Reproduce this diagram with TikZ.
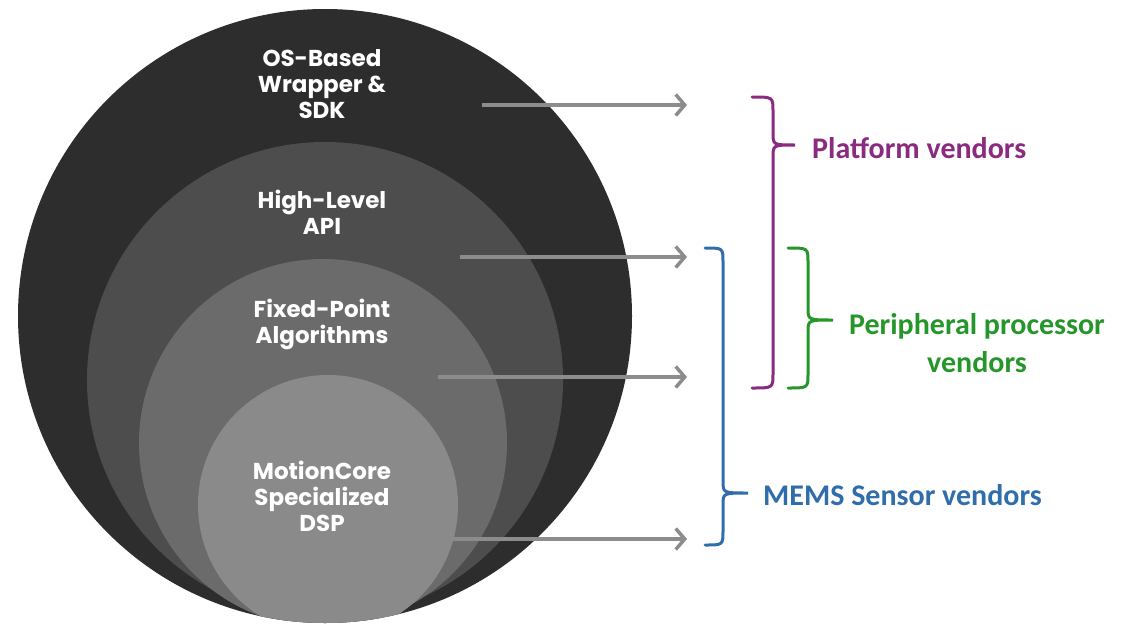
\documentclass[tikz,border=0pt]{standalone}
\usepackage{fontspec}
\setmainfont{Carlito}
\newfontfamily\gothic{Poppins}
\usetikzlibrary{arrows.meta,positioning}
\definecolor{ringA}{HTML}{2D2D2D}
\definecolor{ringB}{HTML}{4D4D4D}
\definecolor{ringC}{HTML}{6B6B6B}
\definecolor{ringD}{HTML}{8A8A8A}
\definecolor{feedgray}{HTML}{8C8C8C}
\definecolor{platpurple}{HTML}{8A2A80}
\definecolor{perigreen}{HTML}{25962A}
\definecolor{memsblue}{HTML}{2F6EAA}

\begin{document}
\begin{tikzpicture}[x=1pt, y=-1pt,
    ring/.style={circle, inner sep=0pt, outer sep=0pt, minimum size=#1},
    layertext/.style={text=white, align=center, inner sep=0pt,
                      font=\gothic\bfseries\fontsize{23}{26}\selectfont},
    feed/.style={draw=feedgray, line width=3.5pt,
                 -{Straight Barb[length=9pt,width=21pt]}},
    bracepath/.style={line width=3pt, line cap=round},
    vendor/.style={font=\bfseries\fontsize{30}{38}\selectfont, align=center,
                   inner sep=0pt}]
\useasboundingbox (0,0) rectangle (1124,626);

% nested layers
\node[ring=614pt, fill=ringA] (osring) at (325,316) {};
\begin{scope}
\clip (325,316) circle (307);
\node[ring=476pt, fill=ringB] (apiring) at (325,380) {};
\node[ring=368pt, fill=ringC] (algring) at (323,443) {};
\node[ring=260pt, fill=ringD] (dspring) at (328,505) {};
\end{scope}

% layer labels
\node[layertext] (ostext) at (322,84) {OS-Based\\Wrapper \&\\SDK};
\node[layertext] (apitext) at (322,212) {High-Level\\API};
\node[layertext] (algtext) at (322,324) {Fixed-Point\\Algorithms};
\node[layertext] (dsptext) at (322,496) {MotionCore\\Specialized\\DSP};

% arrows out of the layers
\coordinate (osfrom) at (482,105);   \coordinate (osto) at (687,105);
\coordinate (apifrom) at (460,257);  \coordinate (apito) at (687,257);
\coordinate (algfrom) at (438,377);  \coordinate (algto) at (687,377);
\coordinate (dspfrom) at (452,539);  \coordinate (dspto) at (687,539);
\draw[feed] (osfrom) -- (osto);
\draw[feed] (apifrom) -- (apito);
\draw[feed] (algfrom) -- (algto);
\draw[feed] (dspfrom) -- (dspto);

% braces
\coordinate (mtip) at (748,493);
\draw[bracepath, memsblue] (705,248) .. controls (723,248) .. (723,262)
    -- (723,481) .. controls (723,493) .. (mtip)
    .. controls (723,493) .. (723,505) -- (723,531)
    .. controls (723,545) .. (705,545);
\coordinate (ptip) at (795,145);
\draw[bracepath, platpurple] (752,97) .. controls (773,97) .. (773,111)
    -- (773,133) .. controls (773,145) .. (ptip)
    .. controls (773,145) .. (773,157) -- (773,374)
    .. controls (773,388) .. (752,388);
\coordinate (gtip) at (833,320);
\draw[bracepath, perigreen] (788,248) .. controls (808,248) .. (808,262)
    -- (808,308) .. controls (808,320) .. (gtip)
    .. controls (808,320) .. (808,332) -- (808,374)
    .. controls (808,388) .. (788,388);

% vendor labels
\node[vendor, text=platpurple, anchor=west] (platform) at (812,148)
    {Platform vendors};
\node[vendor, text=perigreen] (peripheral) at (977,343)
    {Peripheral processor\\vendors};
\node[vendor, text=memsblue, anchor=west] (mems) at (763,495)
    {MEMS Sensor vendors};
\end{tikzpicture}
\end{document}
